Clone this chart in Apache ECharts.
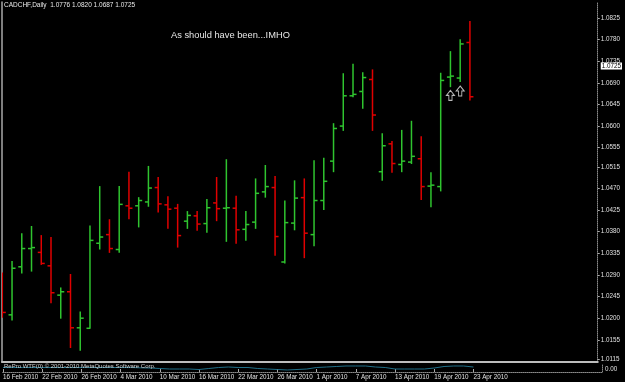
<!DOCTYPE html>
<html><head><meta charset="utf-8">
<script src="https://cdn.jsdelivr.net/npm/echarts@6/dist/echarts.min.js"></script>
<style>html,body{margin:0;padding:0;background:#000;}#c{width:625px;height:382px;}</style>
</head><body><div id="c"></div>
<script>
const dates = ['16 Feb 2010','17 Feb 2010','18 Feb 2010','19 Feb 2010','22 Feb 2010','23 Feb 2010','24 Feb 2010','25 Feb 2010','26 Feb 2010',
 '1 Mar 2010','2 Mar 2010','3 Mar 2010','4 Mar 2010','5 Mar 2010','8 Mar 2010','9 Mar 2010','10 Mar 2010','11 Mar 2010','12 Mar 2010',
 '15 Mar 2010','16 Mar 2010','17 Mar 2010','18 Mar 2010','19 Mar 2010','22 Mar 2010','23 Mar 2010','24 Mar 2010','25 Mar 2010','26 Mar 2010',
 '29 Mar 2010','30 Mar 2010','31 Mar 2010','1 Apr 2010','2 Apr 2010','5 Apr 2010','6 Apr 2010','7 Apr 2010','8 Apr 2010','9 Apr 2010',
 '12 Apr 2010','13 Apr 2010','14 Apr 2010','15 Apr 2010','16 Apr 2010','19 Apr 2010','20 Apr 2010','21 Apr 2010','22 Apr 2010','23 Apr 2010'];
const opens  = [1.0286,1.0207,1.0307,1.0345,1.0337,1.0309,1.0248,1.0255,1.0180,1.0179,1.0356,1.0374,1.0343,1.0434,1.0434,1.0442,1.0472,1.0436,1.0429,1.0402,1.0413,1.0397,1.0440,1.0429,1.0429,
                1.0385,1.0400,1.0463,1.0472,1.0317,1.0398,1.0451,1.0374,1.0445,1.0527,1.0600,1.0663,1.0672,1.0697,1.0505,1.0563,1.0520,1.0525,1.0532,1.0475,1.0474,1.0702,1.0700,1.0774];
const highs  = [1.0295,1.0319,1.0377,1.0392,1.0373,1.0369,1.0264,1.0292,1.0214,1.0393,1.0475,1.0406,1.0475,1.0505,1.0452,1.0517,1.0494,1.0454,1.0438,1.0423,1.0423,1.0448,1.0494,1.0531,1.0455,
                1.0423,1.0491,1.0519,1.0496,1.0445,1.0487,1.0491,1.0529,1.0534,1.0606,1.0710,1.0730,1.0712,1.0718,1.0585,1.0569,1.0592,1.0611,1.0579,1.0504,1.0711,1.0756,1.0781,1.0819];
const lows   = [1.0201,1.0195,1.0293,1.0297,1.0311,1.0231,1.0199,1.0138,1.0132,1.0178,1.0343,1.0336,1.0336,1.0406,1.0389,1.0432,1.0420,1.0386,1.0347,1.0386,1.0382,1.0378,1.0402,1.0359,1.0355,
                1.0361,1.0386,1.0451,1.0330,1.0314,1.0383,1.0325,1.0350,1.0425,1.0504,1.0590,1.0660,1.0636,1.0590,1.0486,1.0503,1.0504,1.0521,1.0446,1.0431,1.0464,1.0681,1.0692,1.0653];
const closes = [1.0212,1.0304,1.0345,1.0347,1.0314,1.0253,1.0255,1.0180,1.0200,1.0362,1.0369,1.0345,1.0437,1.0429,1.0445,1.0471,1.0438,1.0427,1.0372,1.0414,1.0396,1.0430,1.0428,1.0430,1.0384,
                1.0395,1.0460,1.0474,1.0370,1.0399,1.0450,1.0377,1.0445,1.0485,1.0595,1.0663,1.0666,1.0701,1.0623,1.0559,1.0522,1.0527,1.0537,1.0474,1.0477,1.0695,1.0704,1.0771,1.0661];
const indicator = [1.5,1.5,1.5,1.5,1.5,1.5,1.5,1.5,1.5,1.5,1.5,1.5,1.5,1.5,1.2,1.0,0.5,0,0,0,-0.5,0.5,1.5,2.0,1.5,
                   1.5,0.5,0,-0.5,-1.0,-0.5,0,1.5,2.0,2.5,3.0,3.0,3.0,2.0,1.5,0,0,0,0,1.0,2.5,3.0,3.0,2.0];
const tickIndex = [0,4,8,12,16,20,24,28,32,36,40,44,48];
const priceTicks = [1.0825,1.0780,1.0735,1.0690,1.0645,1.0600,1.0555,1.0515,1.0470,1.0425,1.0380,1.0335,1.0290,1.0245,1.0200,1.0155,1.0115];
const lastPrice = 1.0725;
const arrowIdx = [46,47];
const arrowPrice = [1.0664,1.0673];
const header = 'CADCHF,Daily  1.0776 1.0820 1.0687 1.0725';
const note = 'As should have been...IMHO';
const footer = 'RePro WTF(0) \u00a9 2001-2010 MetaQuotes Software Corp.';

const GREEN = '#2fc42f', RED = '#e00000';
const ohlc = dates.map((d,i)=>[i,opens[i],highs[i],lows[i],closes[i]]);
const chart = echarts.init(document.getElementById('c'), null, {renderer:'canvas'});
const fontF = 'Liberation Sans, Arial, sans-serif';
const xMin = -0.03, xMax = 61.12;

chart.setOption({
  backgroundColor:'#000',
  animation:false,
  title:[
    {text:header,left:4,top:2,padding:0,textStyle:{color:'#e8e8e8',fontSize:6.5,fontWeight:'normal',fontFamily:fontF}},
    {text:note,left:171,top:31,padding:0,textStyle:{color:'#e6e6e6',fontSize:9.3,fontWeight:'normal',fontFamily:fontF}},
    {text:footer,left:4,top:363,padding:0,textStyle:{color:'#cfcfcf',fontSize:6,fontWeight:'normal',fontFamily:fontF}}
  ],
  grid:[
    {left:2,right:23,top:2,height:360,containLabel:false},
    {left:2,right:23,top:364,height:8,containLabel:false}
  ],
  xAxis:[
    {type:'value',gridIndex:0,min:xMin,max:xMax,splitLine:{show:false},
     axisLine:{show:true,onZero:false,lineStyle:{color:'#bdbdbd',width:2}},axisTick:{show:false},axisLabel:{show:false}},
    {type:'value',gridIndex:1,min:xMin,max:xMax,splitLine:{show:false},
     axisLine:{show:true,onZero:false,lineStyle:{color:'#8a8a8a',width:1,type:'dotted'}},
     axisTick:{show:true,customValues:tickIndex,length:-3,lineStyle:{color:'#aaaaaa'}},
     axisLabel:{customValues:tickIndex,color:'#e0e0e0',fontSize:6.3,fontFamily:fontF,margin:2,align:'left',
       formatter:v=>dates[Math.round(v)]}}
  ],
  yAxis:[
    {type:'value',gridIndex:0,position:'right',min:1.01088,max:1.08583,scale:true,splitLine:{show:false},
     axisLine:{show:true,onZero:false,lineStyle:{color:'#8a8a8a',type:'dotted'}},
     axisTick:{show:true,customValues:priceTicks,length:2,lineStyle:{color:'#aaaaaa'}},
     axisLabel:{customValues:priceTicks.concat([lastPrice]),color:'#e0e0e0',fontSize:6.3,fontFamily:fontF,margin:3,
       formatter:v=>Math.abs(v-lastPrice)<1e-6?'{hl|'+v.toFixed(4)+'}':v.toFixed(4),
       rich:{hl:{backgroundColor:'#ffffff',color:'#000',fontSize:6.3,fontFamily:fontF,padding:[1,1,0,1]}}}},
    {type:'value',gridIndex:1,position:'right',min:-3,max:5,splitLine:{show:false},
     axisLine:{show:true,onZero:false,lineStyle:{color:'#8a8a8a',type:'dotted'}},axisTick:{show:false},
     axisLabel:{customValues:[0],color:'#e0e0e0',fontSize:6.3,fontFamily:fontF,margin:3,formatter:()=> '0.00'}},
    {type:'value',gridIndex:0,position:'left',min:1.01088,max:1.08583,splitLine:{show:false},
     axisLine:{show:true,onZero:false,lineStyle:{color:'#a8a8a8',width:1.5}},axisTick:{show:false},axisLabel:{show:false}}
  ],
  series:[
    {type:'custom',xAxisIndex:0,yAxisIndex:0,data:ohlc,clip:true,
     renderItem:(params,api)=>{
       const x=api.value(0),o=api.value(1),h=api.value(2),l=api.value(3),c=api.value(4);
       const col = c>=o?GREEN:RED;
       const ph=api.coord([x,h]), pl=api.coord([x,l]), po=api.coord([x,o]), pc=api.coord([x,c]);
       const st={stroke:col,lineWidth:1.5};
       return {type:'group',children:[
         {type:'line',shape:{x1:ph[0],y1:ph[1],x2:pl[0],y2:pl[1]},style:st},
         {type:'line',shape:{x1:po[0]-3.5,y1:po[1],x2:po[0],y2:po[1]},style:st},
         {type:'line',shape:{x1:pc[0],y1:pc[1],x2:pc[0]+3.5,y2:pc[1]},style:st}
       ]};
     }},
    {type:'scatter',xAxisIndex:0,yAxisIndex:0,data:arrowIdx.map((x,i)=>[x,arrowPrice[i]]),
     symbol:'path://M5,0 L10,5 L7,5 L7,10 L3,10 L3,5 L0,5 Z',symbolSize:[8,10],
     itemStyle:{color:'#000',borderColor:'#e8e8e8',borderWidth:1}},
    {type:'line',xAxisIndex:1,yAxisIndex:1,data:indicator.map((v,i)=>[i,v]),showSymbol:false,
     lineStyle:{color:'#1f6f88',width:1}}
  ]
});
</script></body></html>
